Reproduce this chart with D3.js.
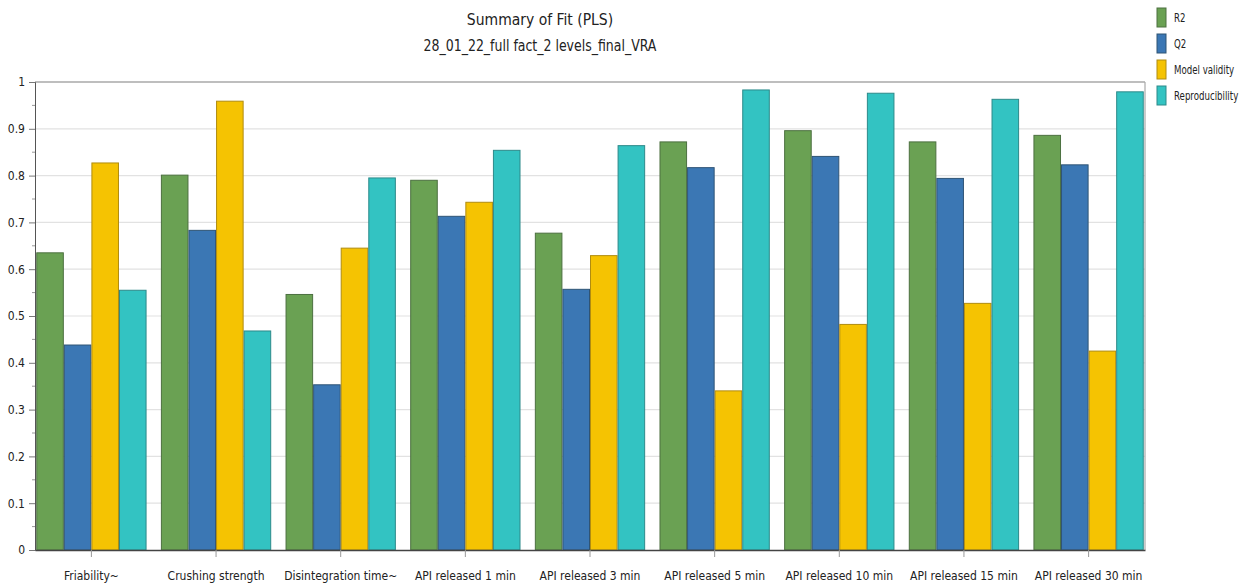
<!DOCTYPE html>
<html><head><meta charset="utf-8">
<script src="https://cdn.jsdelivr.net/npm/d3@7"></script>
<style>body{margin:0;background:#fff}text{font-family:"DejaVu Sans Condensed","Open Sans",sans-serif;fill:#222}</style>
</head><body><svg id="c" width="1242" height="585"></svg>
<script>
const categories = ["Friability~","Crushing strength","Disintegration time~","API released 1 min","API released 3 min","API released 5 min","API released 10 min","API released 15 min","API released 30 min"];
const seriesNames = ["R2","Q2","Model validity","Reproducibility"];
const r2 = [0.635,0.801,0.546,0.790,0.677,0.872,0.896,0.872,0.886];
const q2 = [0.438,0.683,0.353,0.713,0.557,0.817,0.841,0.794,0.823];
const modelValidity = [0.827,0.959,0.645,0.743,0.629,0.340,0.482,0.527,0.425];
const reproducibility = [0.555,0.468,0.795,0.854,0.864,0.983,0.976,0.963,0.979];
const yTicks = [0,0.1,0.2,0.3,0.4,0.5,0.6,0.7,0.8,0.9,1];
const yTickLabels = ["0","0.1","0.2","0.3","0.4","0.5","0.6","0.7","0.8","0.9","1"];
const title = "Summary of Fit (PLS)";
const subtitle = "28_01_22_full fact_2 levels_final_VRA";

const seriesValues = [r2,q2,modelValidity,reproducibility];
const fills = ["#6aa153","#3b77b4","#f5c302","#33c3c2"];
const strokes = ["#4c7040","#2f5475","#b08c10","#2d8a8a"];

const svg = d3.select("#c");
const L=35,R=1145,T=82,B=550;
const x = d3.scaleBand().domain(categories).range([L,R]).paddingInner(0.115).paddingOuter(0.01);
const xs = d3.scaleBand().domain(seriesNames).range([0,x.bandwidth()]).padding(0);
const y = d3.scaleLinear().domain([0,1]).range([B,T]);

// gridlines
svg.append("g").selectAll("line").data(yTicks.slice(1)).join("line")
  .attr("x1",L).attr("x2",R).attr("y1",d=>y(d)).attr("y2",d=>y(d))
  .attr("stroke",d=>d===1?"#a8a8a8":"#e2e2e2").attr("stroke-width",d=>d===1?1.5:1.2);
// right border
svg.append("line").attr("x1",R).attr("x2",R).attr("y1",T).attr("y2",B).attr("stroke","#a8a8a8").attr("stroke-width",1.2);

// bars
const g = svg.append("g");
seriesNames.forEach((s,si)=>{
  g.append("g").selectAll("rect").data(categories).join("rect")
   .attr("x",c=>x(c)+xs(s)+0.5).attr("width",xs.bandwidth()-1)
   .attr("y",(c,i)=>y(seriesValues[si][i])).attr("height",(c,i)=>B-y(seriesValues[si][i]))
   .attr("fill",fills[si]).attr("stroke",strokes[si]).attr("stroke-width",1);
});

// y axis
const ya = d3.axisLeft(y).tickValues(yTicks).tickFormat((d,i)=>yTickLabels[i]).tickSize(6).tickPadding(4);
const yg = svg.append("g").attr("transform",`translate(${L},0)`).call(ya);
yg.select(".domain").attr("stroke","#555");
yg.selectAll(".tick line").attr("stroke","#777");
yg.selectAll("text").style("font-size","12px").attr("fill","#333");
// minor ticks
svg.append("g").selectAll("line").data(d3.range(0.05,1,0.1)).join("line")
  .attr("x1",L-3).attr("x2",L).attr("y1",d=>y(d)).attr("y2",d=>y(d)).attr("stroke","#999");

// x axis
const xa = d3.axisBottom(x).tickSize(7).tickPadding(14).tickSizeOuter(0);
const xg = svg.append("g").attr("transform",`translate(0,${B})`).call(xa);
xg.select(".domain").attr("stroke","#444").attr("stroke-width",1.5);
xg.selectAll(".tick line").attr("stroke","#999");
xg.selectAll("text").style("font-size","12px").attr("fill","#333");

// titles
svg.append("text").attr("transform","translate(540,25) scale(0.97,1)").attr("text-anchor","middle").style("font-size","16px").attr("fill","#333").text(title);
svg.append("text").attr("transform","translate(540,51) scale(0.87,1)").attr("text-anchor","middle").style("font-size","16px").attr("fill","#333").text(subtitle);

// legend
const lg = svg.append("g").attr("transform","translate(1157,8)");
seriesNames.forEach((s,i)=>{
  lg.append("rect").attr("x",0).attr("y",i*26).attr("width",9).attr("height",19).attr("fill",fills[i]).attr("stroke",strokes[i]);
  lg.append("text").attr("transform",`translate(17,${i*26+14}) scale(0.8,1)`).style("font-size","12px").attr("fill","#333").text(s);
});
</script></body></html>
